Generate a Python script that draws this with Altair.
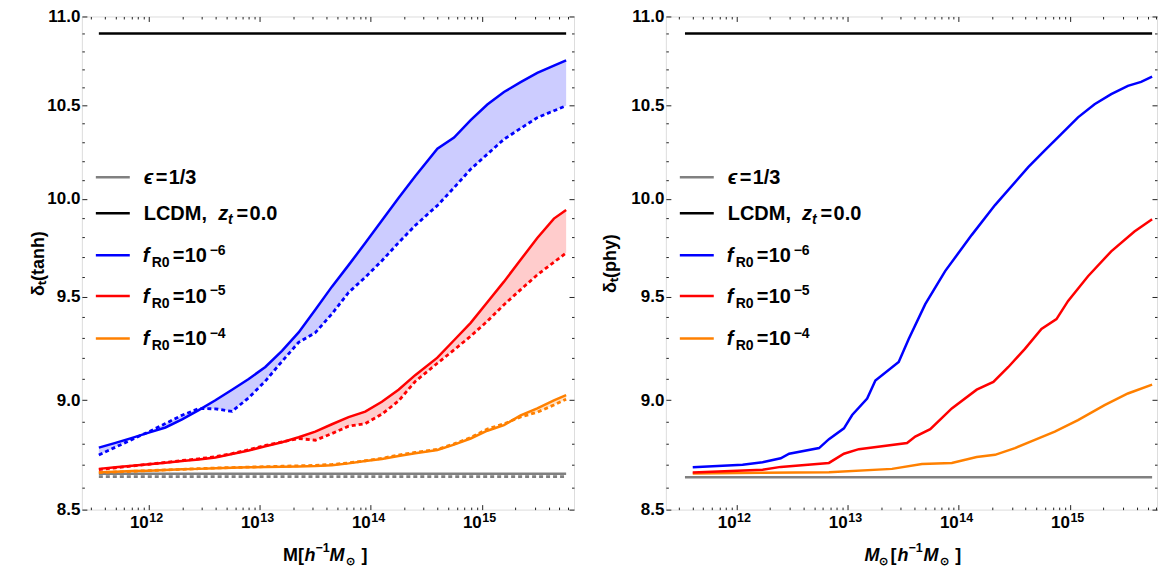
import altair as alt
import pandas as pd

FONT = "Liberation Sans"

# ---------------- values ----------------
# Left panel: delta_t(tanh)  (solid and dashed companions, shaded between)
logM_tanh = [11.55, 11.7, 11.85, 12.0, 12.15, 12.3, 12.45, 12.6, 12.75, 12.9,
             13.05, 13.2, 13.35, 13.5, 13.65, 13.8, 13.95, 14.1, 14.25, 14.4,
             14.6, 14.75, 14.9, 15.05, 15.2, 15.35, 15.5, 15.65, 15.76]
f6_tanh_solid = [8.780, 8.802, 8.825, 8.849, 8.873, 8.911, 8.954, 9.000, 9.050, 9.101,
                 9.158, 9.236, 9.325, 9.436, 9.551, 9.659, 9.771, 9.887, 10.004, 10.118,
                 10.265, 10.325, 10.420, 10.505, 10.574, 10.629, 10.680, 10.721, 10.750]
f6_tanh_dash = [8.746, 8.782, 8.818, 8.853, 8.891, 8.930, 8.961, 8.960, 8.948, 9.012,
                9.091, 9.185, 9.277, 9.324, 9.416, 9.522, 9.598, 9.681, 9.773, 9.861,
                9.965, 10.058, 10.156, 10.236, 10.316, 10.375, 10.433, 10.471, 10.498]
f5_tanh_solid = [8.683, 8.690, 8.697, 8.704, 8.711, 8.719, 8.726, 8.735, 8.751, 8.767,
                 8.786, 8.805, 8.828, 8.854, 8.888, 8.921, 8.947, 8.993, 9.050, 9.119,
                 9.203, 9.287, 9.372, 9.473, 9.576, 9.686, 9.797, 9.897, 9.942]
f5_tanh_dash = [8.680, 8.688, 8.696, 8.704, 8.712, 8.721, 8.729, 8.738, 8.753, 8.770,
                8.790, 8.806, 8.822, 8.814, 8.845, 8.879, 8.891, 8.935, 8.997, 9.089,
                9.176, 9.240, 9.307, 9.380, 9.461, 9.536, 9.610, 9.674, 9.721]
f4_tanh_solid = [8.668, 8.670, 8.673, 8.675, 8.678, 8.681, 8.683, 8.686, 8.688, 8.690,
                 8.691, 8.693, 8.694, 8.696, 8.700, 8.708, 8.719, 8.728, 8.742, 8.754,
                 8.769, 8.794, 8.822, 8.858, 8.884, 8.929, 8.962, 9.000, 9.024]
f4_tanh_dash = [8.666, 8.669, 8.672, 8.675, 8.678, 8.681, 8.684, 8.687, 8.689, 8.691,
                8.693, 8.695, 8.697, 8.699, 8.703, 8.710, 8.720, 8.731, 8.746, 8.758,
                8.772, 8.797, 8.826, 8.866, 8.890, 8.922, 8.944, 8.978, 9.005]
ref_tanh_logM = [11.55, 15.76]
eps_tanh_solid = [8.661, 8.661]
eps_tanh_dash = [8.648, 8.648]
lcdm_tanh = [10.903, 10.903]

# Right panel: delta_t(phy)
logM_f6_phy = [11.605, 12.054, 12.233, 12.397, 12.473, 12.742, 12.831, 12.966, 13.040, 13.175,
               13.249, 13.459, 13.549, 13.698, 13.877, 14.117, 14.326, 14.625, 14.774, 14.924,
               15.073, 15.222, 15.372, 15.522, 15.641, 15.740]
f6_phy = [8.690, 8.702, 8.713, 8.731, 8.752, 8.778, 8.819, 8.869, 8.931, 9.008,
          9.094, 9.182, 9.293, 9.464, 9.629, 9.813, 9.967, 10.167, 10.256, 10.345,
          10.435, 10.507, 10.562, 10.608, 10.630, 10.659]
logM_f5_phy = [11.605, 12.233, 12.397, 12.831, 12.966, 13.100, 13.534, 13.608, 13.743, 13.937,
               14.161, 14.311, 14.446, 14.595, 14.744, 14.879, 14.984, 15.163, 15.372, 15.581, 15.740]
f5_phy = [8.666, 8.679, 8.692, 8.710, 8.752, 8.773, 8.801, 8.831, 8.865, 8.962,
          9.050, 9.087, 9.158, 9.245, 9.342, 9.390, 9.480, 9.603, 9.729, 9.830, 9.894]
logM_f4_phy = [11.605, 12.233, 12.831, 13.399, 13.668, 13.937, 14.161, 14.326, 14.505, 14.684,
               14.864, 15.073, 15.312, 15.522, 15.740]
f4_phy = [8.662, 8.665, 8.668, 8.683, 8.705, 8.710, 8.737, 8.747, 8.778, 8.816,
          8.854, 8.907, 8.977, 9.032, 9.074]
ref_phy_logM = [11.535, 15.74]
eps_phy = [8.645, 8.645]
lcdm_phy = [10.903, 10.903]

# axis ranges (log10 M) and tick values
XDOM_TANH = [11.397, 15.831]
XDOM_PHY = [11.363, 15.784]
YDOM = [8.5, 11.0]
X_DECADES = [11, 12, 13, 14, 15]
LABEL_DECADES = [12, 13, 14, 15]
Y_TICKS = [round(8.5 + 0.1 * i, 1) for i in range(26)]

# texts
LEG_EPS = ["\u03f5", "=", "1/3"]
LEG_LCDM = ["LCDM,", "z", "t", "=", "0.0"]
LEG_F = ["f", "R0", "=", "10"]
LEG_F_EXP = ["\u22126", "\u22125", "\u22124"]
XTITLE_TANH = ["M[", "h", "\u22121", "M", "\u2299", "]"]
XTITLE_PHY = ["M", "\u2299", "[", "h", "\u22121", "M", "\u2299", "]"]
YTITLE_TANH = "\u03b4\u209c(tanh)"
YTITLE_PHY = "\u03b4\u209c(phy)"

COLORS = {"f6": "#0000ff", "f5": "#ff0000", "f4": "#ff8000", "eps": "#808080", "lcdm": "#000000"}
FILLS = {"f6": "#ccccff", "f5": "#ffcccc", "f4": "#ffe3c8"}

# ---------------- helpers ----------------
ONE = alt.Data(values=[{"a": 1}])
H = 494
LBL = 17

x_major = "abs(log(datum.value)/LN10 - round(log(datum.value)/LN10)) < 0.001"
y_major = "abs(datum.value*2 - round(datum.value*2)) < 0.001"
Y_LABEL_EXPR = f"({y_major}) ? format(datum.value, '.1f') : ''"


def tick_size(test):
    return {"condition": {"test": test, "expr": "-5"}, "expr": "-2.5"}


def xvals(dom):
    lo, hi = 10 ** dom[0], 10 ** dom[1]
    return [float(k * 10 ** n) for n in X_DECADES for k in range(1, 10) if lo <= k * 10 ** n <= hi]


def frame(logm, **cols):
    d = pd.DataFrame({"M": [10 ** v for v in logm]})
    for k, v in cols.items():
        d[k] = v
    return d


def txt(s, dx, dy, size=20, italic=False, angle=0):
    return alt.Chart(ONE).mark_text(
        text=s, align="left", baseline="middle", font=FONT, fontSize=size, angle=angle,
        fontWeight="bold", fontStyle="italic" if italic else "normal", color="black"
    ).encode(x=alt.value(dx), y=alt.value(dy))


def legend_layers():
    ys = [161, 197, 239.3, 280, 322.5]
    cols = [COLORS["eps"], COLORS["lcdm"], COLORS["f6"], COLORS["f5"], COLORS["f4"]]
    out = []
    for y, c in zip(ys, cols):
        out.append(alt.Chart(ONE).mark_rule(color=c, strokeWidth=2.5).encode(
            x=alt.value(14), x2=alt.value(48), y=alt.value(y)))
    y = ys[0] + 1
    out += [txt(LEG_EPS[0], 62, y, italic=True), txt(LEG_EPS[1], 74, y), txt(LEG_EPS[2], 87, y)]
    y = ys[1] + 1
    out += [txt(LEG_LCDM[0], 62, y), txt(LEG_LCDM[1], 136.5, y, italic=True),
            txt(LEG_LCDM[2], 146.5, y + 6, 14, italic=True), txt(LEG_LCDM[3], 155, y),
            txt(LEG_LCDM[4], 168, y)]
    for y0, ex in zip(ys[2:], LEG_F_EXP):
        y = y0 + 1
        out += [txt(LEG_F[0], 61, y, italic=True), txt(LEG_F[1], 70, y + 7, 14),
                txt(LEG_F[2], 91, y), txt(LEG_F[3], 103, y), txt(ex, 128, y - 5.5, 14)]
    return out


def xtitle_layers(pieces, xs):
    # pieces: list of (text, dx, kind) with kind in main/italic/sup/sub
    yc = H + 46
    out = []
    for (s, dx, kind) in zip(pieces, xs[0], xs[1]):
        if kind == "main":
            out.append(txt(s, dx, yc, 18))
        elif kind == "ital":
            out.append(txt(s, dx, yc, 18, italic=True))
        elif kind == "sup":
            out.append(txt(s, dx, yc - 8, 12.5))
        else:
            out.append(txt(s, dx, yc + 6, 11))
    return out


def panel(xdom, width, ytitle, ytitle_x, xtitle_pieces, xtitle_pos, fills, lines,
          carrier_main, carrier_mirror):
    xs = alt.Scale(type="log", domain=[10 ** xdom[0], 10 ** xdom[1]], nice=False)
    ys = alt.Scale(type="log", domain=YDOM, nice=False)
    xv = xvals(xdom)
    common = dict(tickColor="#222", tickWidth=1, domain=False, grid=False, labelOverlap=False,
                  labelFlush=False, labelFont=FONT, labelFontSize=LBL, labelFontWeight="bold",
                  labelColor="black", titleFont=FONT, titleFontWeight="bold", titleColor="black")
    ax_bottom = alt.Axis(orient="bottom", values=xv, labels=False, tickSize=tick_size(x_major),
                         title=None, **common)
    ax_left = alt.Axis(orient="left", values=Y_TICKS, labelExpr=Y_LABEL_EXPR, tickSize=tick_size(y_major),
                       labelPadding=7, title=ytitle, titleFontSize=18, titleX=ytitle_x,
                       titleBaseline="middle", titleAngle=270, **common)
    ax_top = alt.Axis(orient="top", values=xv, labels=False, tickSize=tick_size(x_major), title=None, **common)
    ax_right = alt.Axis(orient="right", values=Y_TICKS, labels=False, tickSize=tick_size(y_major),
                        title=None, **common)

    layers = []
    for df, color in fills:
        layers.append(alt.Chart(df).mark_area(color=color, opacity=1).encode(
            x=alt.X("M:Q", scale=xs, axis=None),
            y=alt.Y("lo:Q", scale=ys, axis=None), y2="hi:Q"))
    for i, (df, color, dashed) in enumerate(lines):
        if i == carrier_main:
            axx, axy = ax_bottom, ax_left
        elif i == carrier_mirror:
            axx, axy = ax_top, ax_right
        else:
            axx, axy = None, None
        mk = dict(color=color, strokeWidth=2.5)
        if dashed:
            mk.update(strokeDash=[4, 3], strokeWidth=2.8)
        layers.append(alt.Chart(df).mark_line(**mk).encode(
            x=alt.X("M:Q", scale=xs, axis=axx),
            y=alt.Y("v:Q", scale=ys, axis=axy)))
    # decade tick labels 10^n drawn through the x scale
    dec = pd.DataFrame({"M": [10.0 ** n for n in LABEL_DECADES],
                        "base": ["10"] * len(LABEL_DECADES),
                        "exp": [str(n) for n in LABEL_DECADES]})
    layers.append(alt.Chart(dec).mark_text(
        align="right", baseline="middle", font=FONT, fontSize=LBL, fontWeight="bold", color="black"
    ).encode(x=alt.X("M:Q", scale=xs, axis=None), y=alt.value(H + 13), text="base:N"))
    layers.append(alt.Chart(dec).mark_text(
        align="left", baseline="middle", font=FONT, fontSize=12.5, fontWeight="bold", color="black", dx=0.5
    ).encode(x=alt.X("M:Q", scale=xs, axis=None), y=alt.value(H + 8), text="exp:N"))
    layers += xtitle_layers(xtitle_pieces, xtitle_pos)
    layers += legend_layers()
    return alt.layer(*layers).resolve_axis(x="independent", y="independent").properties(
        width=width, height=H)


# ---------------- left panel ----------------
fills_left = [
    (frame(logM_tanh, lo=f6_tanh_dash, hi=f6_tanh_solid), FILLS["f6"]),
    (frame(logM_tanh, lo=f5_tanh_dash, hi=f5_tanh_solid), FILLS["f5"]),
    (frame(logM_tanh, lo=f4_tanh_dash, hi=f4_tanh_solid), FILLS["f4"]),
]
lines_left = [
    (frame(ref_tanh_logM, v=eps_tanh_solid), COLORS["eps"], False),
    (frame(ref_tanh_logM, v=eps_tanh_dash), COLORS["eps"], True),
    (frame(ref_tanh_logM, v=lcdm_tanh), COLORS["lcdm"], False),
    (frame(logM_tanh, v=f4_tanh_dash), COLORS["f4"], True),
    (frame(logM_tanh, v=f4_tanh_solid), COLORS["f4"], False),
    (frame(logM_tanh, v=f5_tanh_dash), COLORS["f5"], True),
    (frame(logM_tanh, v=f5_tanh_solid), COLORS["f5"], False),
    (frame(logM_tanh, v=f6_tanh_dash), COLORS["f6"], True),
    (frame(logM_tanh, v=f6_tanh_solid), COLORS["f6"], False),
]
xt_left_pos = ([201.5, 223, 234, 248, 265, 280], ["main", "ital", "sup", "ital", "sub", "main"])
left = panel(XDOM_TANH, 493, YTITLE_TANH, -43, XTITLE_TANH, xt_left_pos,
             fills_left, lines_left, carrier_main=2, carrier_mirror=0)

# ---------------- right panel ----------------
lines_right = [
    (frame(ref_phy_logM, v=eps_phy), COLORS["eps"], False),
    (frame(ref_phy_logM, v=lcdm_phy), COLORS["lcdm"], False),
    (frame(logM_f4_phy, v=f4_phy), COLORS["f4"], False),
    (frame(logM_f5_phy, v=f5_phy), COLORS["f5"], False),
    (frame(logM_f6_phy, v=f6_phy), COLORS["f6"], False),
]
xt_right_pos = ([199, 214, 225, 232, 243, 258, 275, 290],
                ["ital", "sub", "main", "ital", "sup", "ital", "sub", "main"])
right = panel(XDOM_PHY, 492, YTITLE_PHY, -55, XTITLE_PHY, xt_right_pos,
              [], lines_right, carrier_main=1, carrier_mirror=0)

chart = alt.hconcat(left, right, spacing=26).properties(
    padding={"left": 21, "top": -2, "right": 0, "bottom": 0}
).configure_view(stroke="black", strokeWidth=3).configure(font=FONT)

chart.save("out.html", embed_options={"renderer": "svg", "actions": False})
